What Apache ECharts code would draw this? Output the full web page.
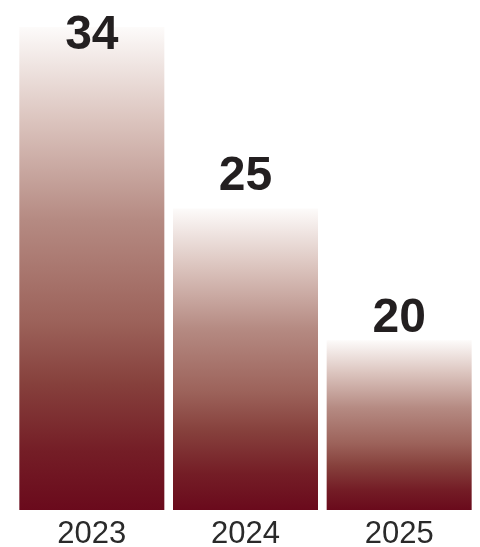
<!DOCTYPE html>
<html><head><meta charset="utf-8">
<script src="https://cdn.jsdelivr.net/npm/echarts@6/dist/echarts.min.js"></script>
<style>html,body{margin:0;padding:0;background:#fff}#c{width:480px;height:547px}</style>
</head><body><div id="c"></div>
<script>
const categories = ['2023', '2024', '2025'];
const values = [34, 25, 20];

// label vertical nudges (styling only)
const labelNudge = [33, -8, 3];

const chart = echarts.init(document.getElementById('c'), null, {renderer: 'canvas'});
const grad = new echarts.graphic.LinearGradient(0, 0, 0, 1, [
  {offset: 0, color: '#fdfbfa'},
  {offset: 0.19, color: '#dcc5bf'},
  {offset: 0.40, color: '#b58a82'},
  {offset: 0.61, color: '#9c625a'},
  {offset: 0.74, color: '#86403c'},
  {offset: 0.88, color: '#741d26'},
  {offset: 1, color: '#6a0a1c'}
]);
chart.setOption({
  animation: false,
  grid: {left: 15, right: 4, top: 27, bottom: 37, outerBoundsMode: 'none', containLabel: false},
  xAxis: {
    type: 'category', data: categories,
    axisLine: {show: false}, axisTick: {show: false},
    axisLabel: {fontSize: 31, color: '#2a2a2a', margin: 9, fontFamily: 'Liberation Sans'}
  },
  yAxis: {type: 'log', logBase: 10, min: 15, max: 34, show: false, splitLine: {show: false}},
  series: [{
    type: 'bar', barWidth: 145, clip: true,
    data: values.map((v, i) => ({value: v, label: {offset: [0, labelNudge[i]]}})),
    itemStyle: {color: grad},
    label: {show: true, position: 'top', distance: 0, fontSize: 48, fontWeight: 'bold',
      color: '#231f20', fontFamily: 'Liberation Sans'}
  }]
});
</script></body></html>
